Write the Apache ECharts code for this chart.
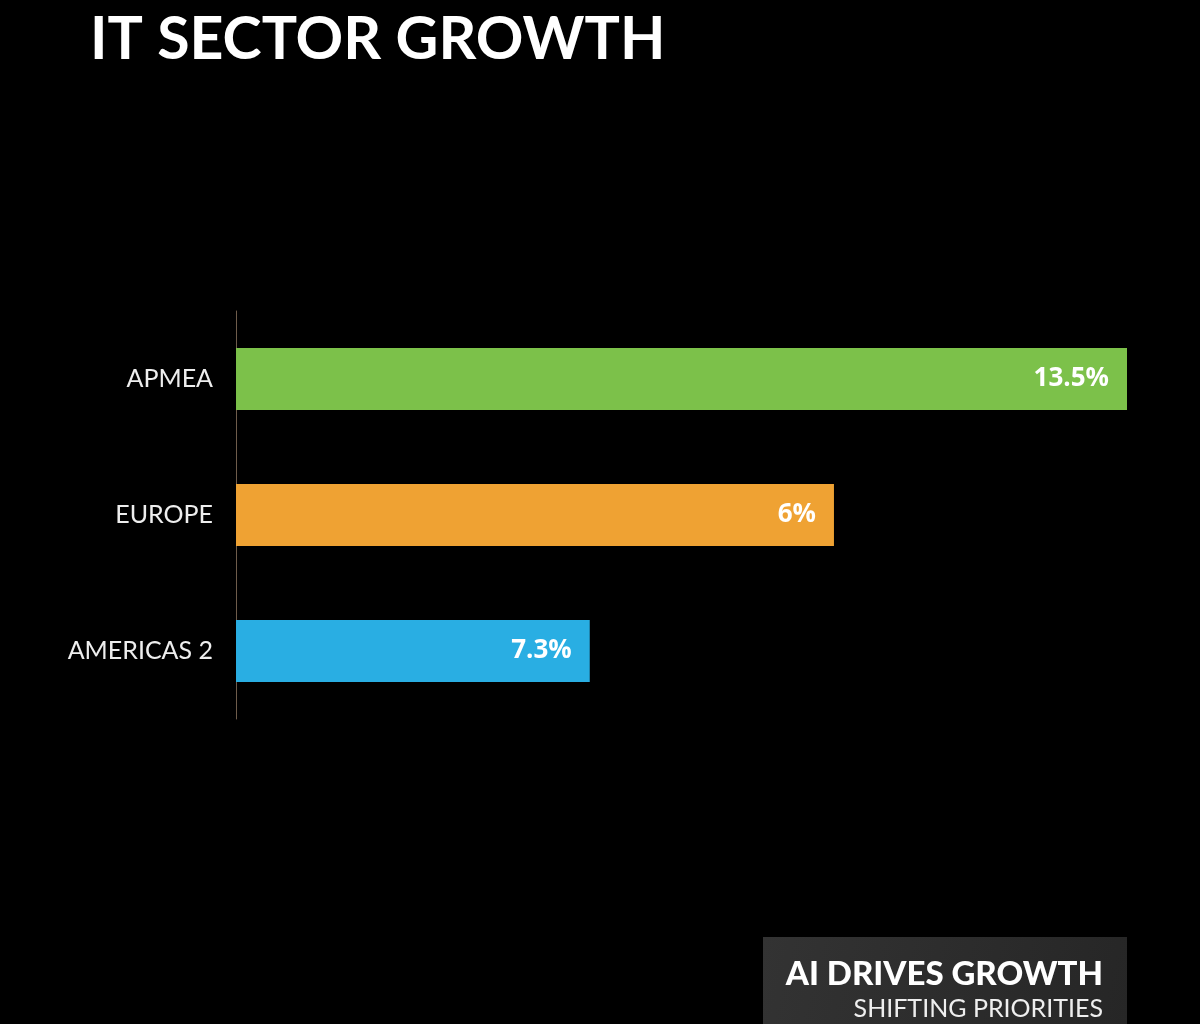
<!DOCTYPE html>
<html>
<head>
<meta charset="utf-8">
<script src="https://cdn.jsdelivr.net/npm/echarts@6/dist/echarts.min.js"></script>
<style>
  html, body { margin: 0; padding: 0; background: #000; }
  #chart { width: 1200px; height: 1024px; }
</style>
</head>
<body>
<div id="chart"></div>
<script>
// regions, top to bottom
var regions = ['APMEA', 'EUROPE', 'AMERICAS 2'];
// bar lengths as drawn in the picture
var barValues = [13.5, 9.06, 5.36];
// labels printed on the bars
var barLabels = ['13.5%', '6%', '7.3%'];
var barColors = ['#7cc14a', '#efa233', '#29aee3'];

var chart = echarts.init(document.getElementById('chart'));

var seriesData = [];
for (var i = 0; i < barValues.length; i++) {
  seriesData.push({
    value: barValues[i],
    itemStyle: { color: barColors[i] },
    label: { formatter: barLabels[i] }
  });
}

chart.setOption({
  backgroundColor: '#000',
  animation: false,
  title: {
    text: 'IT SECTOR GROWTH',
    left: 85,
    top: 5,
    textStyle: {
      color: '#fff',
      fontFamily: 'Lato',
      fontWeight: 'bold',
      fontSize: 59
    }
  },
  grid: { left: 236, right: 73, top: 311, height: 408 },
  xAxis: {
    type: 'value',
    min: 0,
    max: 13.5,
    show: false
  },
  yAxis: {
    type: 'category',
    inverse: true,
    data: regions,
    axisLine: { show: true, lineStyle: { color: '#6e5c4b', width: 1 } },
    axisTick: { show: false },
    axisLabel: {
      color: '#eee',
      fontFamily: 'Lato',
      fontSize: 25,
      margin: 23
    }
  },
  series: [{
    type: 'bar',
    data: seriesData,
    barWidth: 62,
    label: {
      show: true,
      position: 'insideRight',
      distance: 18,
      color: '#fff',
      fontFamily: 'Open Sans',
      fontWeight: 'bold',
      fontSize: 26
    }
  }],
  graphic: [{
    type: 'rect',
    left: 763,
    top: 937,
    shape: { width: 364, height: 90 },
    style: {
      fill: new echarts.graphic.LinearGradient(0, 0, 1, 1, [
        { offset: 0, color: '#333' },
        { offset: 1, color: '#262626' }
      ])
    }
  }, {
    type: 'text',
    right: 97,
    top: 958,
    style: {
      text: 'AI DRIVES GROWTH',
      fill: '#fff',
      font: '900 33px Lato'
    }
  }, {
    type: 'text',
    right: 97,
    top: 996,
    style: {
      text: 'SHIFTING PRIORITIES',
      fill: '#eee',
      font: '25px Lato'
    }
  }]
});
</script>
</body>
</html>
